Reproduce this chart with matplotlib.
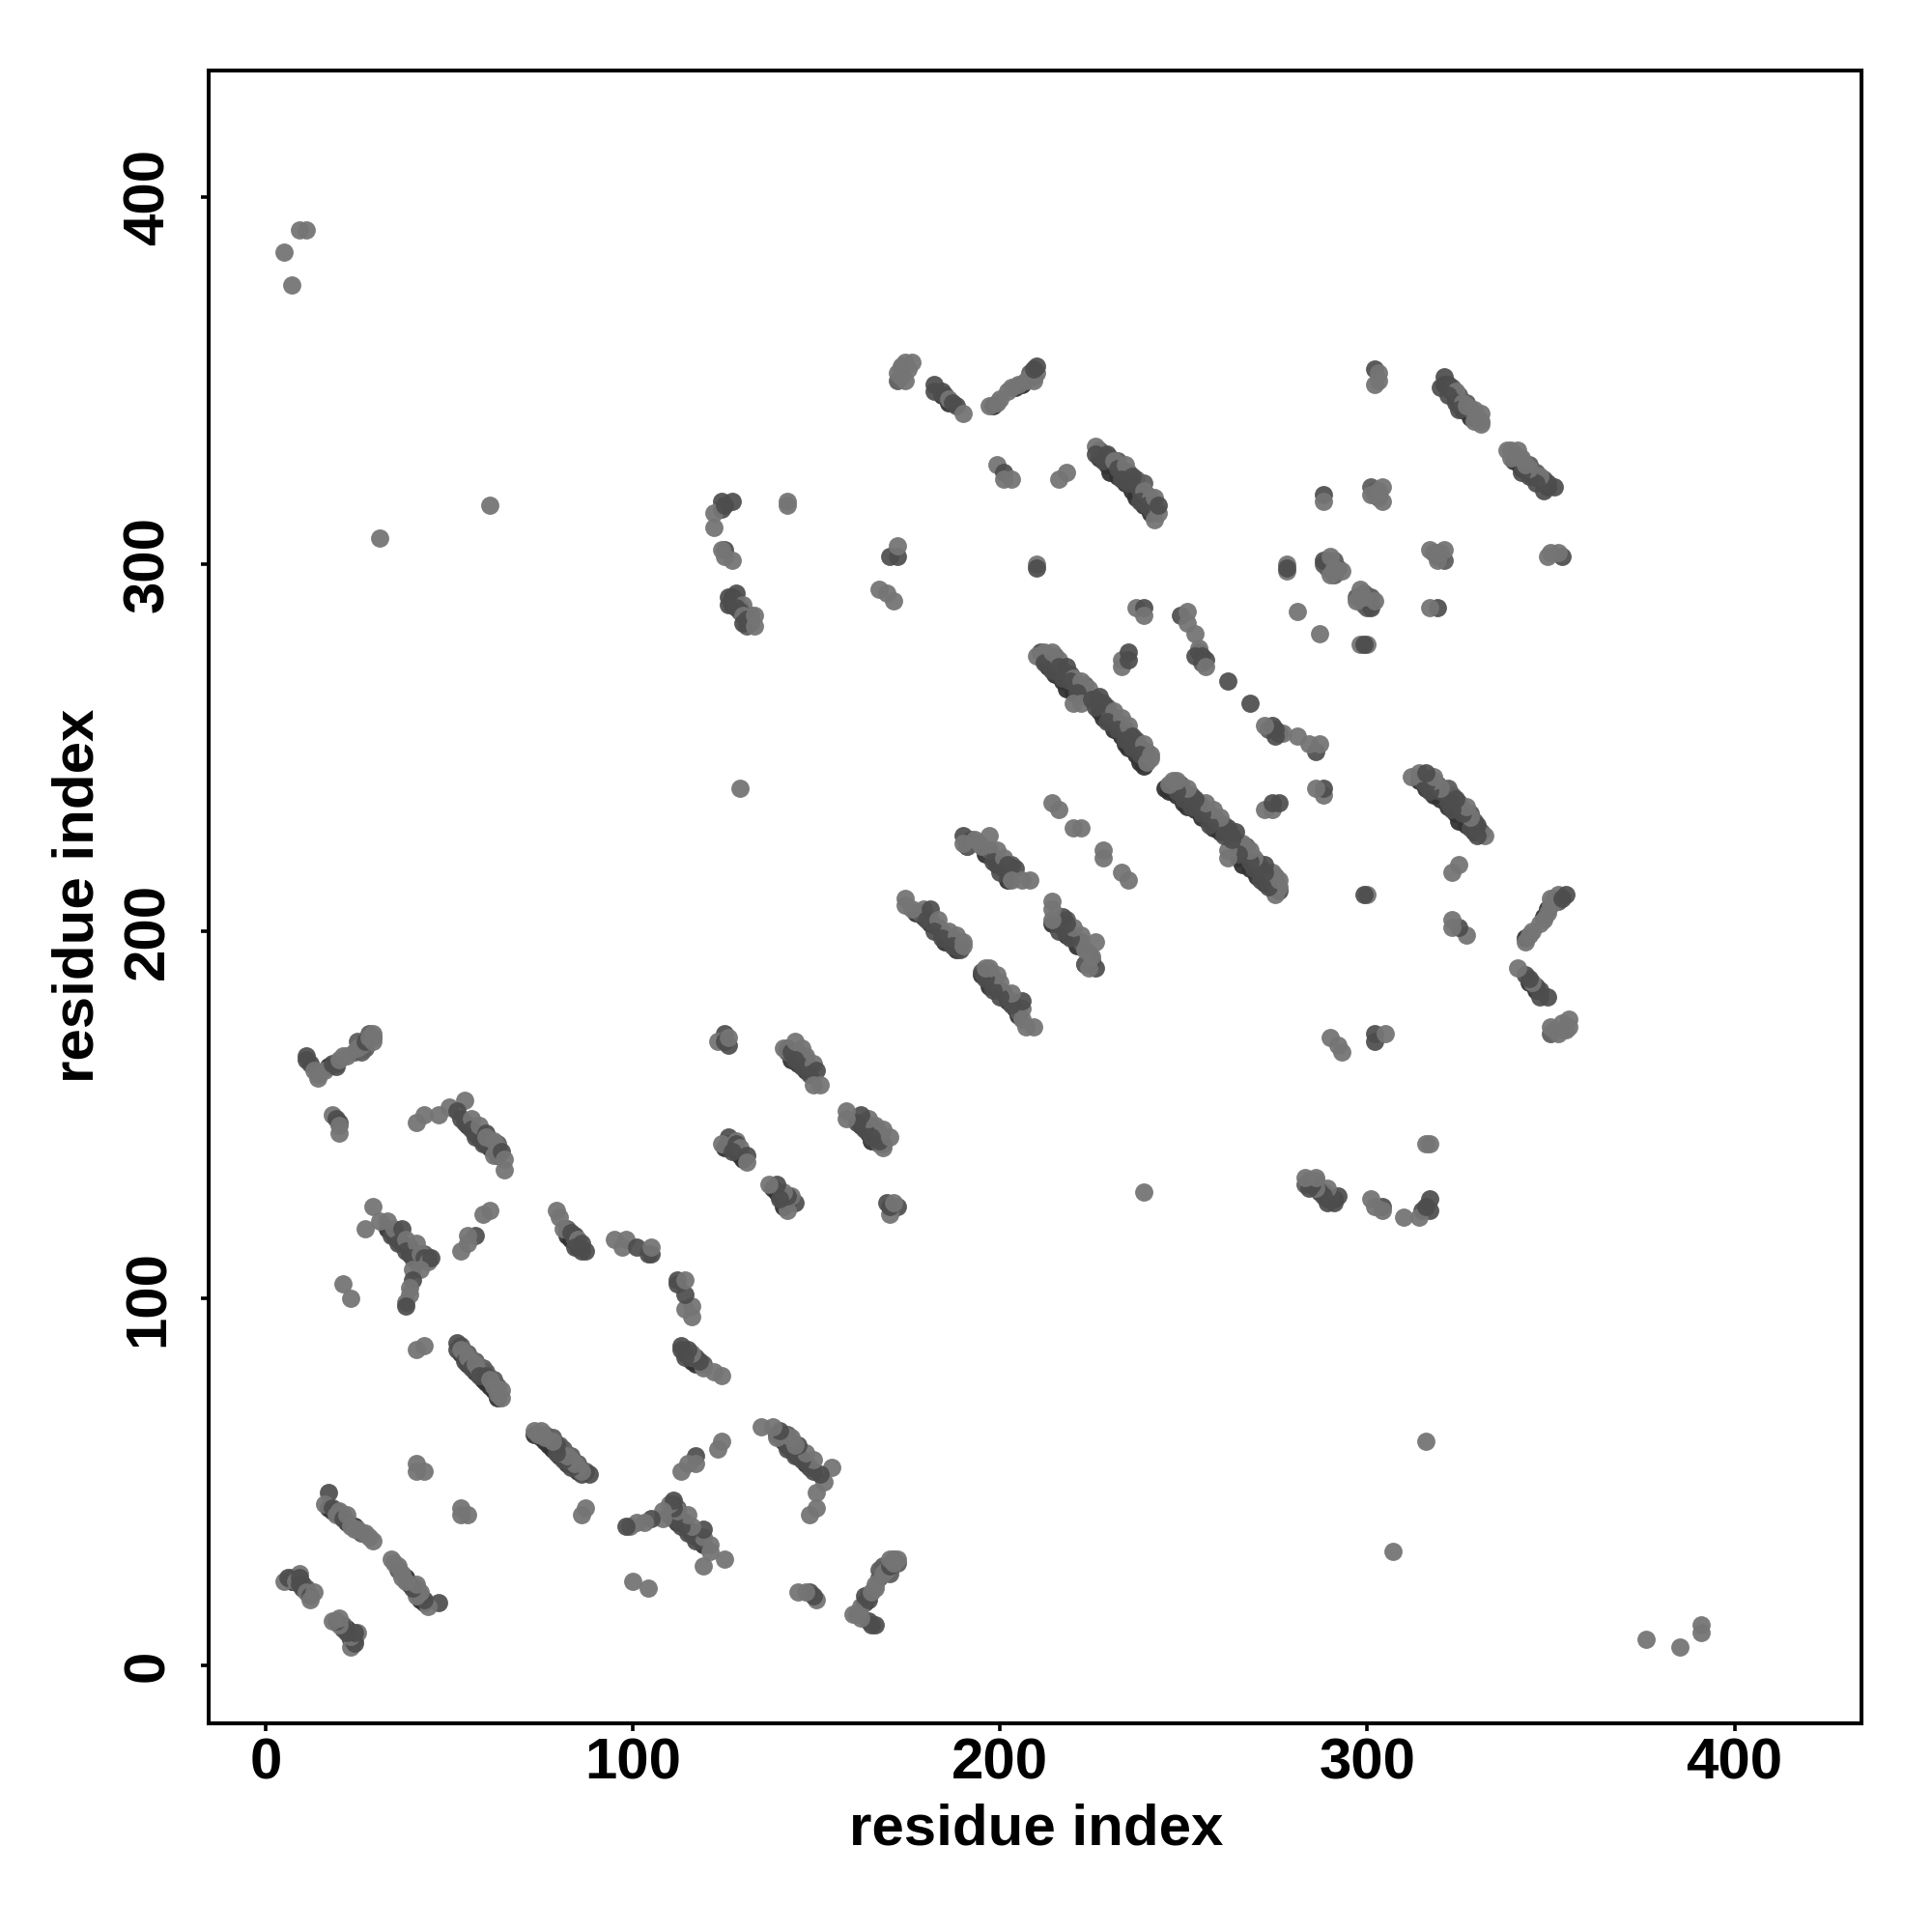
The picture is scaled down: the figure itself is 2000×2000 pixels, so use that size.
import matplotlib
matplotlib.use("Agg")
import matplotlib.pyplot as plt

# (i, j, shade) residue contacts in the upper triangle, i < j; shade 1 = darker marker
far_contacts = [(5,385,0),(7,376,0),(9,391,0),(11,391,0),(31,307,0),(61,316,0),(129,239,0)]
group_a = [(11,166,1),(11,165,1),(12,164,1),(13,162,0),(14,161,0),(14,160,0),(16,162,0),(18,164,1),(19,163,1),
           (20,165,0),(21,166,0),(22,166,0),(25,168,0),(26,169,0),(27,170,1),(28,171,0),(29,170,0),(29,172,0)]
group_b = [(18,150,0),(19,149,1),(20,148,1),(20,147,0),(20,145,0)]
group_c = [(41,148,0),(43,150,0),(47,150,0),(50,152,0),(54,154,0),(52,151,1),(53,149,1),(54,148,1),(56,149,0),(56,146,1),
           (57,144,1),(58,147,0),(60,145,1),(59,143,1),(59,142,1),(60,144,0),(62,143,0),(63,141,0),(62,139,0),(64,140,1),(65,138,0),(65,135,0)]
group_d = [(29,125,0),(27,119,0),(31,121,0),(33,121,0),(34,117,1),(35,119,0),(37,119,1),(36,115,1),(38,116,0),(38,113,1),
           (41,115,0),(40,111,1),(42,112,0),(43,111,1),(44,110,0),(45,111,1),(42,108,0),(40,108,0),(40,105,1),(39,103,0),(39,101,0),(38,99,0),(38,98,1)]
group_e = [(61,124,0),(59,123,0),(57,117,1),(55,117,0),(55,115,0),(53,113,0),(21,104,0),(23,100,0),(41,86,0),(43,87,0),(41,55,0),(41,53,0),(43,53,0)]
group_f = [(52,88,1),(52,86,1),(53,86,0),(54,85,0),(54,83,1),(55,84,0),(56,83,0),(56,81,1),(57,82,0),(58,80,0),(58,79,1),
           (60,79,1),(61,78,0),(62,76,0),(63,74,0),(64,75,0),(64,73,0)]
group_g = [(79,124,0),(80,122,0),(81,119,0),(83,118,1),(84,117,1),(85,116,0),(86,115,1),(84,114,1),(86,113,1),(87,113,1),
           (95,116,0),(98,116,0),(97,114,0),(101,114,1),(105,112,1),(104,112,1),(105,114,0)]
group_h = [(17,47,1),(16,44,0),(18,43,1),(19,42,1),(19,41,0),(20,42,0),(21,40,1),(22,41,0),(23,38,0),(24,37,0),(25,37,0),(27,36,0),(28,35,0),(29,34,0)]
group_i = [(5,23,0),(7,24,0),(9,25,0),(6,24,1),(8,23,0),(9,24,1),(9,22,1),(10,21,1),(11,20,0),(12,19,1),(12,18,0),(13,20,0)]
group_j = [(125,172,1),(123,170,0),(125,170,1),(126,169,1),(126,171,0),(142,168,1),(141,168,0),(143,167,1),(144,170,0),(146,168,0),
           (147,166,0),(144,165,1),(146,163,1),(149,164,0),(148,161,1),(150,162,1),(149,158,0),(151,158,0)]
group_k = [(126,144,1),(124,142,0),(128,143,0),(128,142,1),(129,141,0),(127,140,1),(131,139,1),(131,137,0)]
group_l = [(124,317,1),(127,317,1),(124,315,1),(122,314,0),(122,310,0),(125,316,1),(142,317,0),(142,316,0),
           (125,304,1),(124,304,0),(127,301,0),(125,302,0),(128,292,1),(126,291,1),(126,289,1),(130,289,0),(129,287,1),
           (128,288,1),(130,286,0),(131,285,1),(130,284,1),(133,286,0),(133,283,0)]
group_m = [(170,302,1),(172,302,1),(172,305,0),(167,293,0),(169,292,0),(171,290,0),(210,300,0),(210,299,1),(199,327,0),(201,325,1),(201,323,0),(203,323,0),
           (218,325,0),(216,323,0),(237,288,0),(239,288,1),(239,286,0),(233,272,0),(233,274,0),(235,276,1),(235,274,1),
           (214,235,0),(216,233,0),(220,228,0),(222,228,0)]
group_n = [(211,276,1),(210,275,0),(212,276,0),(212,273,1),(214,276,0),(214,271,1),(216,274,0),(216,272,1),(218,272,1),(217,269,1),(220,269,0),
           (219,268,1),(222,268,0),(224,266,0),(221,265,1),(220,262,0),(222,262,0),(225,263,1),(227,264,1),(228,262,1),(226,261,1),(231,260,0),
           (229,257,1),(233,258,0),(232,255,1),(235,256,0),(234,252,1),(236,253,1),(236,250,1),(239,251,0),(238,248,1),(241,248,0),(240,246,0),(241,247,0)]
group_o = [(174,209,0),(174,207,0),(176,206,0),(179,206,0),(181,206,1),(180,203,1),(183,203,0),(182,200,1),(186,200,0),(184,198,1),(188,199,0),
           (187,196,1),(190,197,0),(189,195,1),(190,196,0)]
group_p = [(190,226,1),(190,224,0),(193,225,0),(197,226,0),(195,223,0),(199,222,0),(198,219,1),(201,220,0),(202,218,1),(204,217,1),(200,216,1),(203,214,0),(206,214,0),(208,214,0)]
group_q = [(172,352,0),(173,351,0),(173,354,0),(174,350,0),(174,355,0),(175,353,0),(176,355,0),(182,349,1),(182,347,1),(184,347,1),(185,346,1),(186,345,0),(187,344,1),(188,343,1),(190,341,0),
           (197,343,0),(199,344,0),(200,345,0),(202,347,0),(203,348,0),(205,349,0),(207,350,0),(208,351,0),(209,350,0),(210,352,0),(209,353,1),(210,354,1)]
group_r = [(226,332,0),(226,330,1),(228,328,1),(229,330,1),(231,328,0),(232,326,1),(234,327,0),(233,323,1),(236,324,1),(235,322,1),(238,320,1),(239,320,0),
           (238,317,1),(241,318,0),(240,316,1),(241,315,1),(242,318,0),(242,312,0),(243,314,0),(243,316,1)]
group_s = [(249,286,1),(251,287,0),(251,284,0),(253,281,0),(254,277,0),(253,275,1),(255,275,1),(256,274,1),(256,272,0),(262,268,1)]
group_t = [(278,300,0),(278,298,0),(278,299,1),(281,287,0),(288,319,1),(288,317,0),(301,319,0),(303,320,0),(304,317,0),(304,321,0),
           (288,301,1),(290,302,0),(290,297,0),(291,299,0),(293,298,0),(302,353,1),(303,352,0),(303,350,0),(302,349,0),
           (321,351,1),(320,348,1),(322,349,1),(324,347,0),(322,346,1),(324,344,1),(326,344,0),(325,342,1),(327,343,0),(329,342,0),(331,341,0),(329,339,0),(331,339,0),(331,338,0)]

# contacts hidden along the lower edge of the strands, and mid-grey contacts inside them
edge_contacts = [(212,274),(213,272),(215,270),(217,268),(218,266),(220,265),(227,260),(228,258),(230,257),(231,255),(233,253),(234,251),(235,250),(237,248),(238,246),(239,245),
                 (227,329),(229,327),(230,325),(232,324),(234,322),(236,320),(237,318),(239,316),(241,314),
                 (321,349),(323,347),(324,345),(326,342),(328,340),(184,346),(186,344),(198,343),(204,348),(206,349),
                 (55,147),(57,145),(58,144),(60,142),(61,141),(63,139),(33,119),(35,117),(36,116),(37,115),(39,114),(39,112),(41,110),
                 (53,85),(54,84),(55,82),(57,80),(59,78),(60,77),(61,76),(62,75),(63,73),(82,117),(83,116),(85,114),
                 (17,43),(18,42),(20,41),(22,39),(24,38),(7,23),(10,22),(143,165),(145,164),(147,162),(125,141),(126,142),(128,140),(129,139),(130,138),
                 (127,291),(127,289),(129,288),(131,286),(177,205),(179,204),(181,202),(183,201),(185,197),(188,195),
                 (191,223),(196,221),(198,220),(199,218),(201,217),(202,214),(17,163),(254,276)]
mid_contacts = [(213,275),(215,275),(217,271),(219,270),(221,267),(223,267),(226,263),(229,261),(230,259),(232,257),(234,255),(235,254),(237,252),(238,250),(240,249),
                (227,331),(228,330),(230,329),(232,328),(233,326),(235,325),(237,323),(239,322),(240,319),(241,317),
                (323,348),(325,346),(327,344),(328,342),(330,340),(208,352),(209,351),(173,353),(172,350),
                (61,143),(63,142),(41,112),(43,112),(44,111),(53,87),(55,85),(57,83),(59,81),(60,80),(62,78),(63,76),(82,119),(84,116),
                (21,41),(26,36),(8,24),(11,21),(145,167),(147,165),(148,163),(142,167),(127,142),(128,290),(131,283),(132,284),(132,286),
                (178,205),(181,203),(184,200),(187,198),(189,197),(192,225),(194,224),(197,222),(203,218),(191,223),
                (19,164),(24,167),(25,170),(26,167),(27,168),(28,172),(29,171),(255,273),
                (290,300),(289,301),(289,299),(291,301),(292,299),(291,297),(288,300),(301,321),(302,319),(302,320),(303,318),(303,319)]

groups = [far_contacts, group_a, group_b, group_c, group_d, group_e, group_f, group_g, group_h, group_i, group_j,
          group_k, group_l, group_m, group_n, group_o, group_p, group_q, group_r, group_s, group_t]

ticks = [0, 100, 200, 300, 400]
axis_label = "residue index"

plt.rcParams["font.family"] = ["Liberation Sans", "DejaVu Sans"]
plt.rcParams["font.weight"] = "bold"
fig = plt.figure(figsize=(10, 10), dpi=200)
ax = fig.add_axes([215.7/2000, 1-1784/2000, (1927-215.7)/2000, (1784-72.7)/2000])

SIZE = 46
for i, j in edge_contacts:
    ax.scatter([i, j], [j, i], s=SIZE, color=[(0.2, 0.2, 0.2, 0.95)], linewidths=0, zorder=2)
for i, j in mid_contacts:
    ax.scatter([i, j], [j, i], s=SIZE, color=[(0.37, 0.37, 0.37, 0.95)], linewidths=0, zorder=3)
for grp in groups:
    for i, j, dark in grp:
        c = (0.3, 0.3, 0.3, 0.93) if dark else (0.46, 0.46, 0.46, 0.95)
        ax.scatter([i, j], [j, i], s=SIZE, color=[c], linewidths=0, zorder=4)

ax.set_xlim(-15.7, 434.6)
ax.set_ylim(-15.8, 434.5)
ax.set_xticks(ticks)
ax.set_yticks(ticks)
ax.tick_params(axis="both", length=2.9, width=1.3, labelsize=21.6, color="black")
ax.tick_params(axis="x", pad=2.3)
ax.tick_params(axis="y", pad=9.5)
for lab in ax.get_yticklabels():
    lab.set_rotation(90)
    lab.set_va("center")
for s in ax.spines.values():
    s.set_linewidth(1.45)
fig.text(1073/2000, 1-1894/2000, axis_label, ha="center", va="center", fontsize=21.6, fontweight="bold")
fig.text(81.5/2000, 1-927/2000, axis_label, ha="center", va="center", rotation=90, fontsize=21.6, fontweight="bold")
fig.savefig("out.png", dpi=200)
